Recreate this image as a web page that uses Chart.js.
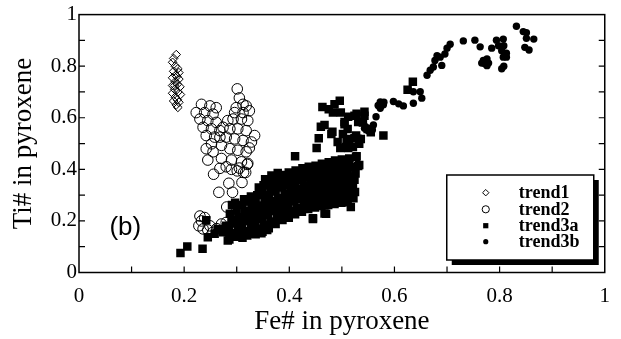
<!DOCTYPE html>
<html><head><meta charset="utf-8">
<script src="https://cdn.jsdelivr.net/npm/chart.js@4/dist/chart.umd.min.js"></script>
<style>html,body{margin:0;padding:0;background:#fff;}canvas{display:block;}</style>
</head><body>
<canvas id="c" width="621" height="339"></canvas>
<script>
// ---------- data ----------
const xTickLabels = ['0','0.2','0.4','0.6','0.8','1'];
const yTickLabels = ['0','0.2','0.4','0.6','0.8','1'];
const minorTicks = [0.1,0.2,0.3,0.4,0.5,0.6,0.7,0.8,0.9];
const seriesNames = ['trend1','trend2','trend3a','trend3b'];
const panelLabel = '(b)';

const trend1Fe = [0.185,0.180,0.178,0.183,0.188,0.180,0.190,0.184,0.178,0.190,0.183,0.187,0.178,0.192,0.182,0.188,0.178,0.193,0.183,0.187,0.180,0.190,0.185,0.188,0.182,0.186];
const trend1Ti = [0.845,0.830,0.815,0.800,0.790,0.780,0.775,0.765,0.755,0.750,0.740,0.730,0.725,0.720,0.710,0.700,0.695,0.690,0.680,0.670,0.665,0.660,0.650,0.640,0.725,0.760];

const trend2Fe = [0.301,0.305,0.312,0.318,0.299,0.296,0.312,0.324,0.309,0.293,0.321,0.283,0.287,0.302,0.318,0.334,0.274,0.280,0.296,0.312,0.328,0.268,0.271,0.287,0.302,0.318,0.252,0.242,0.255,0.245,0.271,0.290,0.309,0.321,0.268,0.280,
  0.233,0.249,0.261,0.223,0.239,0.255,0.230,0.245,0.261,0.236,0.252,0.268,0.242,0.258,
  0.256,0.285,0.310,0.266,0.292,0.281,0.301,0.317,0.324,0.320,0.313,0.290,0.305,
  0.233,0.228,0.239,0.236,0.255,0.271,0.249,0.280,0.230,0.245,0.262];
const trend2Ti = [0.712,0.677,0.652,0.646,0.639,0.620,0.620,0.627,0.595,0.595,0.589,0.589,0.557,0.557,0.550,0.531,0.563,0.525,0.518,0.512,0.506,0.525,0.493,0.480,0.474,0.468,0.499,0.480,0.468,0.436,0.442,0.436,0.429,0.423,0.404,0.410,
  0.652,0.646,0.639,0.620,0.620,0.614,0.595,0.589,0.582,0.563,0.557,0.550,0.531,0.525,
  0.381,0.346,0.349,0.311,0.311,0.254,0.394,0.388,0.483,0.419,0.388,0.400,0.405,
  0.200,0.181,0.213,0.169,0.156,0.188,0.181,0.194,0.219,0.165,0.170];

const trend3aFe = [
  // dense band
  0.286,0.289,0.285,0.290,0.287,0.291,
  0.299,0.302,0.298,0.303,0.300,0.297,
  0.311,0.314,0.310,0.313,0.316,0.311,0.314,
  0.324,0.327,0.323,0.326,0.328,0.324,0.327,
  0.336,0.339,0.335,0.338,0.340,0.336,0.339,0.342,
  0.349,0.351,0.348,0.352,0.350,0.353,0.348,0.351,0.354,
  0.361,0.364,0.360,0.363,0.365,0.361,0.364,0.362,0.366,
  0.374,0.377,0.373,0.376,0.378,0.374,0.377,0.375,0.378,
  0.387,0.390,0.386,0.389,0.391,0.387,0.390,0.388,
  0.399,0.402,0.398,0.401,0.403,0.400,0.402,0.399,
  0.411,0.414,0.410,0.413,0.415,0.411,0.414,0.412,
  0.424,0.427,0.423,0.426,0.428,0.424,0.427,0.425,
  0.436,0.439,0.435,0.438,0.440,0.436,0.439,0.437,
  0.449,0.452,0.448,0.451,0.453,0.449,0.452,0.450,
  0.461,0.464,0.460,0.463,0.465,0.461,0.464,0.462,
  0.474,0.477,0.473,0.476,0.478,0.474,0.477,0.475,
  0.486,0.489,0.485,0.488,0.490,0.486,0.489,0.487,
  0.499,0.502,0.498,0.501,0.503,0.499,0.502,0.500,
  0.511,0.514,0.510,0.513,0.515,0.511,0.514,
  0.522,0.525,0.521,0.524,0.526,0.523,
  // low scatter
  0.193,0.206,0.235,0.242,0.245,0.283,0.300,0.274,0.264,0.280,0.320,0.258,0.332,0.347,0.358,
  // below band
  0.391,0.445,0.470,0.517,0.432,0.467,0.445,0.388,
  // upper spread
  0.496,0.463,0.475,0.486,0.483,0.498,0.524,0.543,0.540,0.505,0.511,0.502,0.492,0.480,0.514,0.527,0.536,0.549,0.555,0.533,0.521,0.508,0.527,0.514,0.533,0.579,0.460,0.482,0.452,0.456,0.411,0.467,0.505,0.512,0.528,0.543,0.531,0.509,0.497,0.512,0.524,0.528,0.531,0.635,0.625];
const trend3aTi = [
  0.128,0.152,0.176,0.203,0.228,0.262,
  0.142,0.168,0.190,0.214,0.240,0.270,
  0.135,0.160,0.186,0.212,0.238,0.262,0.284,
  0.150,0.175,0.200,0.226,0.250,0.275,0.295,
  0.148,0.170,0.196,0.222,0.248,0.272,0.300,0.330,
  0.158,0.184,0.208,0.234,0.260,0.285,0.310,0.338,0.362,
  0.172,0.198,0.224,0.250,0.276,0.300,0.326,0.352,0.376,
  0.188,0.212,0.238,0.262,0.288,0.314,0.340,0.364,0.386,
  0.204,0.230,0.255,0.280,0.305,0.330,0.356,0.378,
  0.212,0.238,0.262,0.288,0.312,0.338,0.362,0.388,
  0.226,0.250,0.276,0.300,0.326,0.350,0.374,0.396,
  0.236,0.262,0.286,0.310,0.336,0.360,0.384,0.404,
  0.246,0.270,0.294,0.318,0.344,0.368,0.390,0.410,
  0.252,0.276,0.300,0.326,0.350,0.374,0.398,0.414,
  0.258,0.282,0.306,0.330,0.356,0.380,0.404,0.422,
  0.262,0.288,0.312,0.336,0.360,0.386,0.410,0.428,
  0.266,0.292,0.316,0.340,0.366,0.390,0.414,0.434,
  0.270,0.294,0.320,0.344,0.370,0.394,0.418,0.438,
  0.272,0.298,0.322,0.348,0.372,0.396,0.420,
  0.288,0.312,0.336,0.360,0.384,0.408,
  0.076,0.101,0.092,0.203,0.137,0.124,0.139,0.156,0.169,0.181,0.143,0.150,0.152,0.152,0.165,
  0.232,0.207,0.228,0.254,0.258,0.229,0.210,0.241,
  0.666,0.642,0.633,0.652,0.620,0.620,0.608,0.608,0.582,0.575,0.556,0.537,0.506,0.537,0.518,0.531,0.518,0.556,0.544,0.499,0.487,0.487,0.448,0.442,0.417,0.531,0.565,0.546,0.483,0.521,0.451,0.572,0.584,0.604,0.616,0.623,0.584,0.515,0.483,0.483,0.521,0.451,0.413,0.740,0.709];

const trend3bFe = [0.531,0.535,0.543,0.554,0.558,0.565,0.569,0.573,0.574,0.579,0.573,0.598,0.608,0.617,0.636,0.652,0.649,0.636,0.627,0.662,0.668,0.674,0.690,0.677,0.681,0.687,0.696,0.700,0.706,0.731,0.753,0.763,0.766,0.769,0.772,0.776,0.776,0.779,0.785,0.794,0.798,0.804,0.807,0.808,0.813,0.807,0.813,0.804,0.808,0.832,0.845,0.851,0.851,0.865,0.848,0.856,0.580,0.545,0.550,0.560];
const trend3bTi = [0.508,0.521,0.559,0.559,0.553,0.604,0.648,0.661,0.646,0.650,0.637,0.663,0.654,0.646,0.656,0.676,0.701,0.701,0.707,0.765,0.784,0.797,0.803,0.822,0.841,0.835,0.847,0.870,0.885,0.898,0.901,0.875,0.812,0.822,0.809,0.828,0.802,0.812,0.870,0.901,0.879,0.860,0.905,0.879,0.850,0.835,0.835,0.790,0.800,0.955,0.934,0.930,0.908,0.905,0.873,0.863,0.660,0.565,0.550,0.572];

const pts = (xs, ys) => xs.map((v, i) => ({x: v, y: ys[i]}));

// ---------- plugins ----------
const framePlugin = {
  id: 'frameTicks',
  afterDatasetsDraw(chart) {
    const {ctx, chartArea: a, scales: {x, y}} = chart;
    ctx.save();
    ctx.strokeStyle = '#000';
    ctx.lineWidth = 1.5;
    ctx.strokeRect(a.left, a.top, a.right - a.left, a.bottom - a.top);
    ctx.lineWidth = 1.2;
    ctx.beginPath();
    minorTicks.forEach(v => {
      const px = x.getPixelForValue(v);
      ctx.moveTo(px, a.bottom); ctx.lineTo(px, a.bottom - 6);
      const py = y.getPixelForValue(v);
      ctx.moveTo(a.left, py); ctx.lineTo(a.left + 6, py);
      ctx.moveTo(a.right, py); ctx.lineTo(a.right - 6, py);
    });
    ctx.stroke();
    ctx.fillStyle = '#000';
    ctx.font = '26px "Liberation Sans", Arial, sans-serif';
    ctx.textAlign = 'center';
    ctx.textBaseline = 'middle';
    ctx.fillText(panelLabel, x.getPixelForValue(0.088), y.getPixelForValue(0.172));
    ctx.restore();
  }
};

const legendPlugin = {
  id: 'boxLegend',
  afterDraw(chart) {
    const {ctx, chartArea: a} = chart;
    const right = a.right - 11, bottom = a.bottom - 12.5;
    const w = 147, h = 85;
    const left = right - w, top = bottom - h;
    ctx.save();
    ctx.fillStyle = '#000';
    ctx.fillRect(left + 5, top + 5, w, h);
    ctx.fillStyle = '#fff';
    ctx.fillRect(left, top, w, h);
    ctx.strokeStyle = '#000';
    ctx.lineWidth = 1.5;
    ctx.strokeRect(left, top, w, h);
    const mx = left + 39, tx = left + 72;
    const rowY = [top + 17.7, top + 34.3, top + 50.7, top + 66.7];
    ctx.font = 'bold 18px "Liberation Serif", "Times New Roman", serif';
    ctx.textBaseline = 'middle';
    ctx.textAlign = 'left';
    chart.data.datasets.forEach((ds, i) => {
      const yy = rowY[i];
      ctx.lineWidth = 1;
      ctx.strokeStyle = '#000';
      ctx.fillStyle = '#000';
      ctx.beginPath();
      if (ds.pointStyle === 'rectRot') {
        ctx.moveTo(mx - 3.2, yy); ctx.lineTo(mx, yy - 3.2); ctx.lineTo(mx + 3.2, yy); ctx.lineTo(mx, yy + 3.2); ctx.closePath();
        ctx.stroke();
      } else if (ds.pointStyle === 'rect') {
        ctx.rect(mx - 2.6, yy - 2.6, 5.2, 5.2); ctx.fill();
      } else if (ds.pointBorderWidth > 0) {
        ctx.arc(mx, yy, 3.6, 0, Math.PI * 2); ctx.stroke();
      } else {
        ctx.arc(mx, yy, 2.6, 0, Math.PI * 2); ctx.fill();
      }
      ctx.fillStyle = '#000';
      ctx.fillText(ds.label, tx, yy + 1);
    });
    ctx.restore();
  }
};

// ---------- chart ----------
const serif = '"Liberation Serif", "Times New Roman", serif';
new Chart(document.getElementById('c'), {
  type: 'scatter',
  data: {
    datasets: [
      {label: seriesNames[0], data: pts(trend1Fe, trend1Ti), pointStyle: 'rectRot', pointRadius: 4.3, pointBorderWidth: 1, pointBorderColor: '#000', pointBackgroundColor: 'rgba(255,255,255,0)', order: 3},
      {label: seriesNames[1], data: pts(trend2Fe, trend2Ti), pointStyle: 'circle', pointRadius: 5.3, pointBorderWidth: 1, pointBorderColor: '#000', pointBackgroundColor: 'rgba(255,255,255,0)', order: 2},
      {label: seriesNames[2], data: pts(trend3aFe, trend3aTi), pointStyle: 'rect', pointRadius: 6, pointBorderWidth: 0, pointBackgroundColor: '#000', order: 1},
      {label: seriesNames[3], data: pts(trend3bFe, trend3bTi), pointStyle: 'circle', pointRadius: 3.7, pointBorderWidth: 0, pointBackgroundColor: '#000', order: 0}
    ]
  },
  options: {
    responsive: false,
    animation: false,
    events: [],
    layout: {padding: {top: 11, right: 15, left: 0, bottom: 0}},
    plugins: {legend: {display: false}, tooltip: {enabled: false}},
    scales: {
      x: {
        type: 'linear', min: 0, max: 1,
        grid: {display: false, drawTicks: false},
        border: {display: false},
        ticks: {stepSize: 0.2, padding: 11, color: '#000', font: {family: serif, size: 21},
          callback: (v) => { const i = Math.round(v / 0.2); return Math.abs(v - i * 0.2) < 1e-6 ? xTickLabels[i] : null; }},
        title: {display: true, text: 'Fe# in pyroxene', color: '#000', font: {family: serif, size: 27}, padding: {top: 0, bottom: 1}},
        afterFit: (s) => { s.height = 66.5; }
      },
      y: {
        type: 'linear', min: 0, max: 1,
        grid: {display: false, drawTicks: false},
        border: {display: false},
        ticks: {stepSize: 0.2, padding: 2, color: '#000', font: {family: serif, size: 21},
          callback: (v) => { const i = Math.round(v / 0.2); return Math.abs(v - i * 0.2) < 1e-6 ? yTickLabels[i] : null; }},
        title: {display: true, text: 'Ti# in pyroxene', color: '#000', font: {family: serif, size: 27}, padding: {top: 8, bottom: 0}},
        afterFit: (s) => { s.width = 79; }
      }
    }
  },
  plugins: [framePlugin, legendPlugin]
});
</script>
</body></html>
